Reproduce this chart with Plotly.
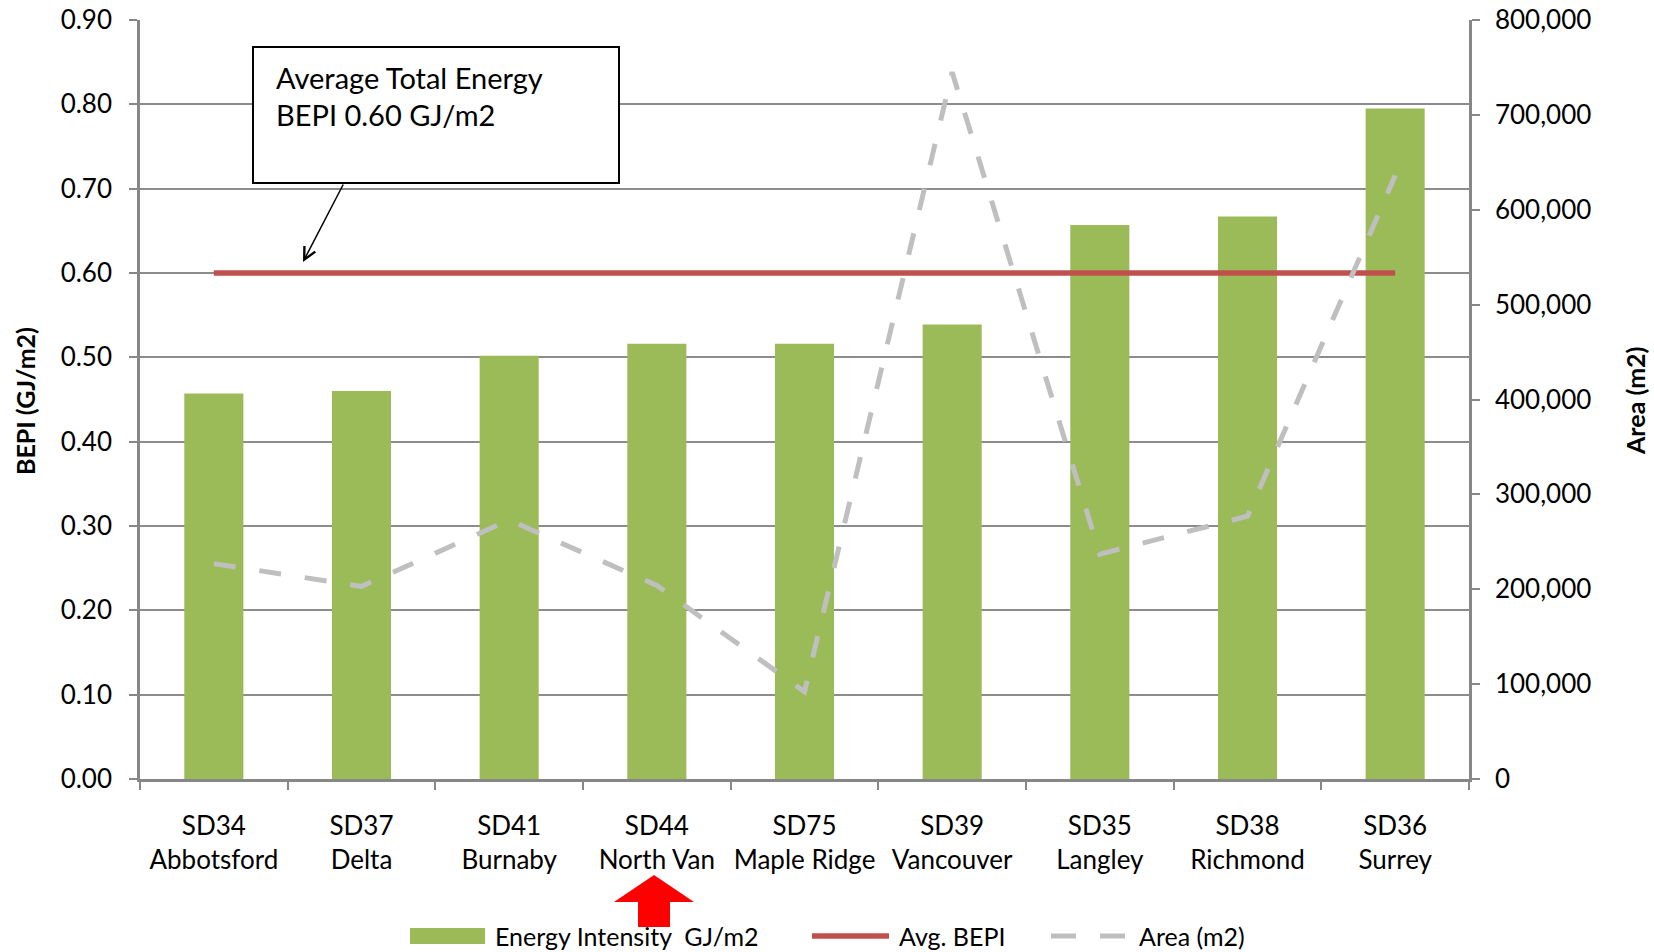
import plotly.graph_objects as go

# ---- data ----
districts = ["SD34", "SD37", "SD41", "SD44", "SD75", "SD39", "SD35", "SD38", "SD36"]
cities = ["Abbotsford", "Delta", "Burnaby", "North Van", "Maple Ridge", "Vancouver", "Langley", "Richmond", "Surrey"]
energy_intensity = [0.457, 0.460, 0.502, 0.516, 0.516, 0.539, 0.657, 0.667, 0.795]
avg_bepi_value = 0.60
area_m2 = [227000, 203000, 273000, 204000, 92000, 745000, 237000, 277000, 636000]

y_ticks = [0.0, 0.1, 0.2, 0.3, 0.4, 0.5, 0.6, 0.7, 0.8, 0.9]
y2_ticks = [0, 100000, 200000, 300000, 400000, 500000, 600000, 700000, 800000]

categories = [f"{d}<br>{c}" for d, c in zip(districts, cities)]
avg_bepi = [avg_bepi_value] * len(categories)

FONT = "Lato"
GREEN = "#9BBB59"
RED = "#C0504D"
GRAY_LINE = "#BFBFBF"
AXIS = "#878787"
TICK_SIZE = 26

fig = go.Figure()
fig.add_trace(go.Bar(x=categories, y=energy_intensity, marker_color=GREEN,
                     marker_line_width=0, name="Energy Intensity  GJ/m2", showlegend=False))
fig.add_trace(go.Scatter(x=categories, y=avg_bepi, mode="lines",
                         line=dict(color=RED, width=5.5), name="Avg. BEPI", showlegend=False))
fig.add_trace(go.Scatter(x=categories, y=area_m2, mode="lines", yaxis="y2",
                         line=dict(color=GRAY_LINE, width=5, dash="22px,24px"),
                         name="Area (m2)", showlegend=False))

W, H = 1654, 952
L, R, T, B = 140, 1654 - 1469, 20, 952 - 779
pw, ph = W - L - R, H - T - B


def px(xpix):
    return (xpix - L) / pw


def py(ypix):
    return (H - B - ypix) / ph


fig.update_layout(
    width=W, height=H,
    margin=dict(l=L, r=R, t=T, b=B, autoexpand=False),
    paper_bgcolor="white", plot_bgcolor="white",
    font=dict(family=FONT, size=TICK_SIZE, color="black"),
    bargap=0.6,
    showlegend=False,
    xaxis=dict(
        type="category", tickson="boundaries", ticks="outside", ticklen=8, tickangle=0,
        tickwidth=2, tickcolor=AXIS, showline=True, linecolor=AXIS, linewidth=2.5,
        showgrid=False, tickfont=dict(family=FONT, size=TICK_SIZE), ticklabelstandoff=22,
        automargin=False,
    ),
    yaxis=dict(
        range=[0, 0.9], tickvals=y_ticks, tickformat=".2f", ticks="outside", ticklen=8,
        tickwidth=2, tickcolor=AXIS, showline=True, linecolor=AXIS, linewidth=2.5,
        showgrid=True, gridcolor="#8C8C8C", gridwidth=2, zeroline=False,
        tickfont=dict(family=FONT, size=TICK_SIZE), ticklabelstandoff=12, automargin=False,
    ),
    yaxis2=dict(
        range=[0, 800000], tickvals=y2_ticks, tickformat=",", overlaying="y", side="right",
        ticks="outside", ticklen=8, tickwidth=2, tickcolor=AXIS, showline=True,
        linecolor=AXIS, linewidth=2.5, showgrid=False, zeroline=False,
        tickfont=dict(family=FONT, size=TICK_SIZE), ticklabelstandoff=10, automargin=False,
    ),
)

shapes = []
annotations = []

# axis titles
annotations.append(dict(text="<b>BEPI (GJ/m2)</b>", xref="paper", yref="paper", x=px(25), y=py(401),
                        textangle=-90, showarrow=False, font=dict(family=FONT, size=25),
                        xanchor="center", yanchor="middle"))
annotations.append(dict(text="<b>Area (m2)</b>", xref="paper", yref="paper", x=px(1635), y=py(401),
                        textangle=-90, showarrow=False, font=dict(family=FONT, size=25),
                        xanchor="center", yanchor="middle"))

# callout box
shapes.append(dict(type="rect", xref="paper", yref="paper", x0=px(253), x1=px(619), y0=py(183), y1=py(47),
                   line=dict(color="black", width=2), fillcolor="white", layer="above"))
annotations.append(dict(text="Average Total Energy", xref="paper", yref="paper", x=px(274), y=py(78),
                        xanchor="left", yanchor="middle", showarrow=False, font=dict(family=FONT, size=29)))
annotations.append(dict(text="BEPI 0.60 GJ/m2", xref="paper", yref="paper", x=px(274), y=py(115),
                        xanchor="left", yanchor="middle", showarrow=False, font=dict(family=FONT, size=29)))
annotations.append(dict(text="", xref="paper", yref="paper", x=px(303), y=py(262), ax=41, ay=-79,
                        showarrow=True, arrowhead=5, arrowsize=1.6, arrowwidth=1.5, arrowcolor="black"))

# red block arrow under North Van
shapes.append(dict(type="path", xref="paper", yref="paper",
                   path=(f"M {px(654)},{py(875)} L {px(694)},{py(902)} L {px(670)},{py(902)} "
                         f"L {px(670)},{py(927)} L {px(638)},{py(927)} L {px(638)},{py(902)} "
                         f"L {px(614)},{py(902)} Z"),
                   fillcolor="#FF0000", line=dict(width=0)))

# legend (custom)
ly = py(936)
LEG = 25
shapes.append(dict(type="rect", xref="paper", yref="paper", x0=px(410), x1=px(485), y0=py(944), y1=py(928),
                   fillcolor=GREEN, line=dict(width=0)))
annotations.append(dict(text="Energy Intensity  GJ/m2", xref="paper", yref="paper", x=px(493), y=ly,
                        xanchor="left", yanchor="middle", showarrow=False, font=dict(family=FONT, size=LEG)))
shapes.append(dict(type="line", xref="paper", yref="paper", x0=px(812), x1=px(889), y0=ly, y1=ly,
                   line=dict(color=RED, width=5.5)))
annotations.append(dict(text="Avg. BEPI", xref="paper", yref="paper", x=px(897), y=ly,
                        xanchor="left", yanchor="middle", showarrow=False, font=dict(family=FONT, size=LEG)))
shapes.append(dict(type="line", xref="paper", yref="paper", x0=px(1051), x1=px(1076), y0=ly, y1=ly,
                   line=dict(color=GRAY_LINE, width=5)))
shapes.append(dict(type="line", xref="paper", yref="paper", x0=px(1100), x1=px(1125), y0=ly, y1=ly,
                   line=dict(color=GRAY_LINE, width=5)))
annotations.append(dict(text="Area (m2)", xref="paper", yref="paper", x=px(1137), y=ly,
                        xanchor="left", yanchor="middle", showarrow=False, font=dict(family=FONT, size=LEG)))

fig.update_layout(shapes=shapes, annotations=annotations)
fig.write_html("out.html", config={"displayModeBar": False},
               post_script="document.body.style.margin='0';document.body.style.overflow='hidden';")
